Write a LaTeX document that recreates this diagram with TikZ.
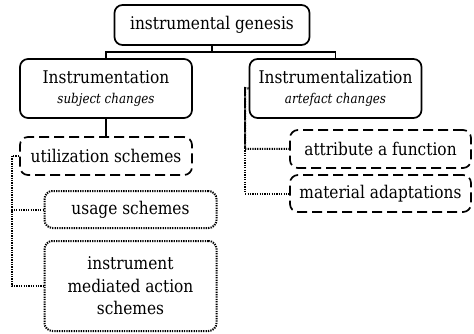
\documentclass[tikz,border=0pt]{standalone}
\usepackage{fontspec}
\setmainfont{DejaVu Serif}[FakeStretch=0.88]
\usepackage{tikz}
\usetikzlibrary{arrows.meta}

\begin{document}
\begin{tikzpicture}[x=1pt,y=-1pt]
\tikzstyle{box} =[draw, rounded corners=8pt, line width=1.7pt, align=center, minimum width=172pt, inner sep=1pt, font=\fontsize{17.5}{22.5}\selectfont]
\tikzstyle{dashbox} =[box, dash pattern=on 10pt off 5pt]
\tikzstyle{dotbox} =[box, line width=2pt, dash pattern=on 1.3pt off 1.1pt]
\tikzstyle{dotline} =[line width=2pt, dash pattern=on 1.3pt off 1.1pt]
\useasboundingbox (0,0) rectangle (474,334);

\node[box,minimum width=195pt,minimum height=40pt](genesis) at (212,25){instrumental genesis};
\node[box,minimum height=59pt](instr) at (106,88.5){Instrumentation\\[-3pt]{\fontsize{13.5}{16}\selectfont\itshape subject changes}};
\node[box,minimum height=59pt](instz) at (335.5,88.5){Instrumentalization\\[-3pt]{\fontsize{13.5}{16}\selectfont\itshape artefact changes}};

\node[dashbox,minimum height=38pt](util) at (106,156){utilization schemes};
\node[dotbox,minimum height=37pt](usage) at (130.5,209.5){usage schemes};
\node[dotbox,minimum height=90pt](imas) at (130.5,286){instrument\\mediated action\\schemes};

\node[dashbox,minimum width=181pt,minimum height=38pt](attr) at (380.5,149){attribute a function};
\node[dashbox,minimum width=181pt,minimum height=37pt](mat) at (380.5,193.5){material adaptations};

\coordinate (split) at (212,52);
\coordinate (ul) at (12,156);
\coordinate (zl) at (245,88);

\draw [line width=1.4pt] (genesis.south) -- (split) -| (instr.north);
\draw [line width=1.4pt] (split) -| (instz.north);
\draw [line width=1.4pt] (instr) -- (util);

\draw [dotline] (util.west) -- (ul) |- (usage.west);
\draw [dotline] (ul) |- (imas.west);
\draw [dotline] (instz.west) -- (zl) |- (attr.west);
\draw [dotline] (zl) |- (mat.west);
\end{tikzpicture}
\end{document}
